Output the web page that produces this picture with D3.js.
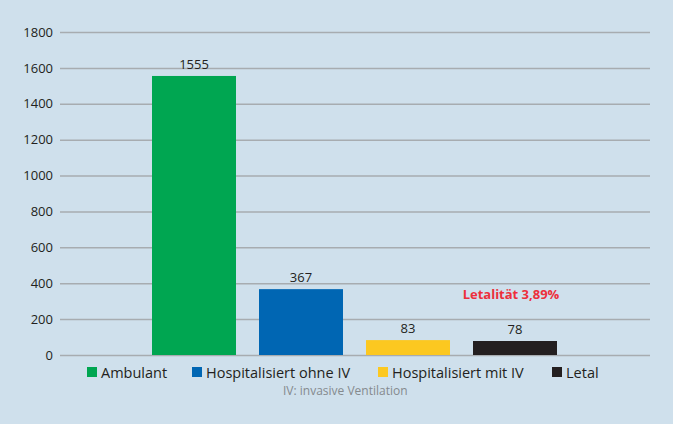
<!DOCTYPE html>
<html>
<head>
<meta charset="utf-8">
<script src="https://cdn.jsdelivr.net/npm/d3@7"></script>
<style>
  html, body { margin: 0; padding: 0; background: #cfe0ec; }
  svg { display: block; }
</style>
</head>
<body>
<script>
const WIDTH = 673;
const HEIGHT = 424;

// data
const categories = ["Ambulant", "Hospitalisiert ohne IV", "Hospitalisiert mit IV", "Letal"];
const values = [1555, 367, 83, 78];
const colors = ["#00a651", "#0066b3", "#fcc820", "#231f20"];
const yTicks = [0, 200, 400, 600, 800, 1000, 1200, 1400, 1600, 1800];
const annotation = "Letalität 3,89%";
const footnote = "IV: invasive Ventilation";

const FONT = "'Open Sans', 'Noto Sans', sans-serif";

const svg = d3.select("body")
  .append("svg")
  .attr("width", WIDTH)
  .attr("height", HEIGHT);

svg.append("rect")
  .attr("width", WIDTH)
  .attr("height", HEIGHT)
  .attr("fill", "#cfe0ec");

const x = d3.scaleBand()
  .domain(categories)
  .range([129, 580])
  .padding(0.215);

const y = d3.scaleLinear()
  .domain([0, 1800])
  .range([355, 32]);

// gridlines + y labels
const yAxis = svg.append("g")
  .attr("transform", "translate(60,0)")
  .call(d3.axisLeft(y).tickValues(yTicks).tickSize(-590).tickPadding(7).tickFormat(d3.format("d")));
yAxis.select(".domain").remove();
yAxis.selectAll(".tick line").attr("stroke", "#a7acb0").attr("stroke-width", 1.5);
yAxis.selectAll(".tick text")
  .attr("fill", "#231f20")
  .attr("font-size", "13px")
  .attr("font-family", FONT);

// bars
svg.append("g")
  .selectAll("rect")
  .data(values)
  .join("rect")
  .attr("x", (d, i) => x(categories[i]))
  .attr("y", d => y(d))
  .attr("width", x.bandwidth())
  .attr("height", d => y(0) - y(d))
  .attr("fill", (d, i) => colors[i]);

// value labels
svg.append("g")
  .selectAll("text")
  .data(values)
  .join("text")
  .attr("x", (d, i) => x(categories[i]) + x.bandwidth() / 2)
  .attr("y", d => y(d) - 7)
  .attr("text-anchor", "middle")
  .attr("fill", "#231f20")
  .attr("font-size", "13px")
  .attr("font-family", FONT)
  .text(d => d);

// Letalität annotation
svg.append("text")
  .attr("x", x("Letal") + x.bandwidth() / 2 - 4)
  .attr("y", y(200) - 20)
  .attr("text-anchor", "middle")
  .attr("fill", "#ed2f3b")
  .attr("font-size", "13px")
  .attr("font-weight", "bold")
  .attr("font-family", FONT)
  .text(annotation);

// legend
const legendX = [87, 192, 378, 552];
const legend = svg.append("g");
categories.forEach((c, i) => {
  legend.append("rect")
    .attr("x", legendX[i])
    .attr("y", 367)
    .attr("width", 10)
    .attr("height", 10)
    .attr("fill", colors[i]);
  legend.append("text")
    .attr("x", legendX[i] + 14)
    .attr("y", 378)
    .attr("fill", "#231f20")
    .attr("font-size", "14.5px")
    .attr("font-family", FONT)
    .text(c);
});

svg.append("text")
  .attr("x", 283)
  .attr("y", 395)
  .attr("fill", "#858a8e")
  .attr("font-size", "12px")
  .attr("font-family", FONT)
  .text(footnote);
</script>
</body>
</html>
